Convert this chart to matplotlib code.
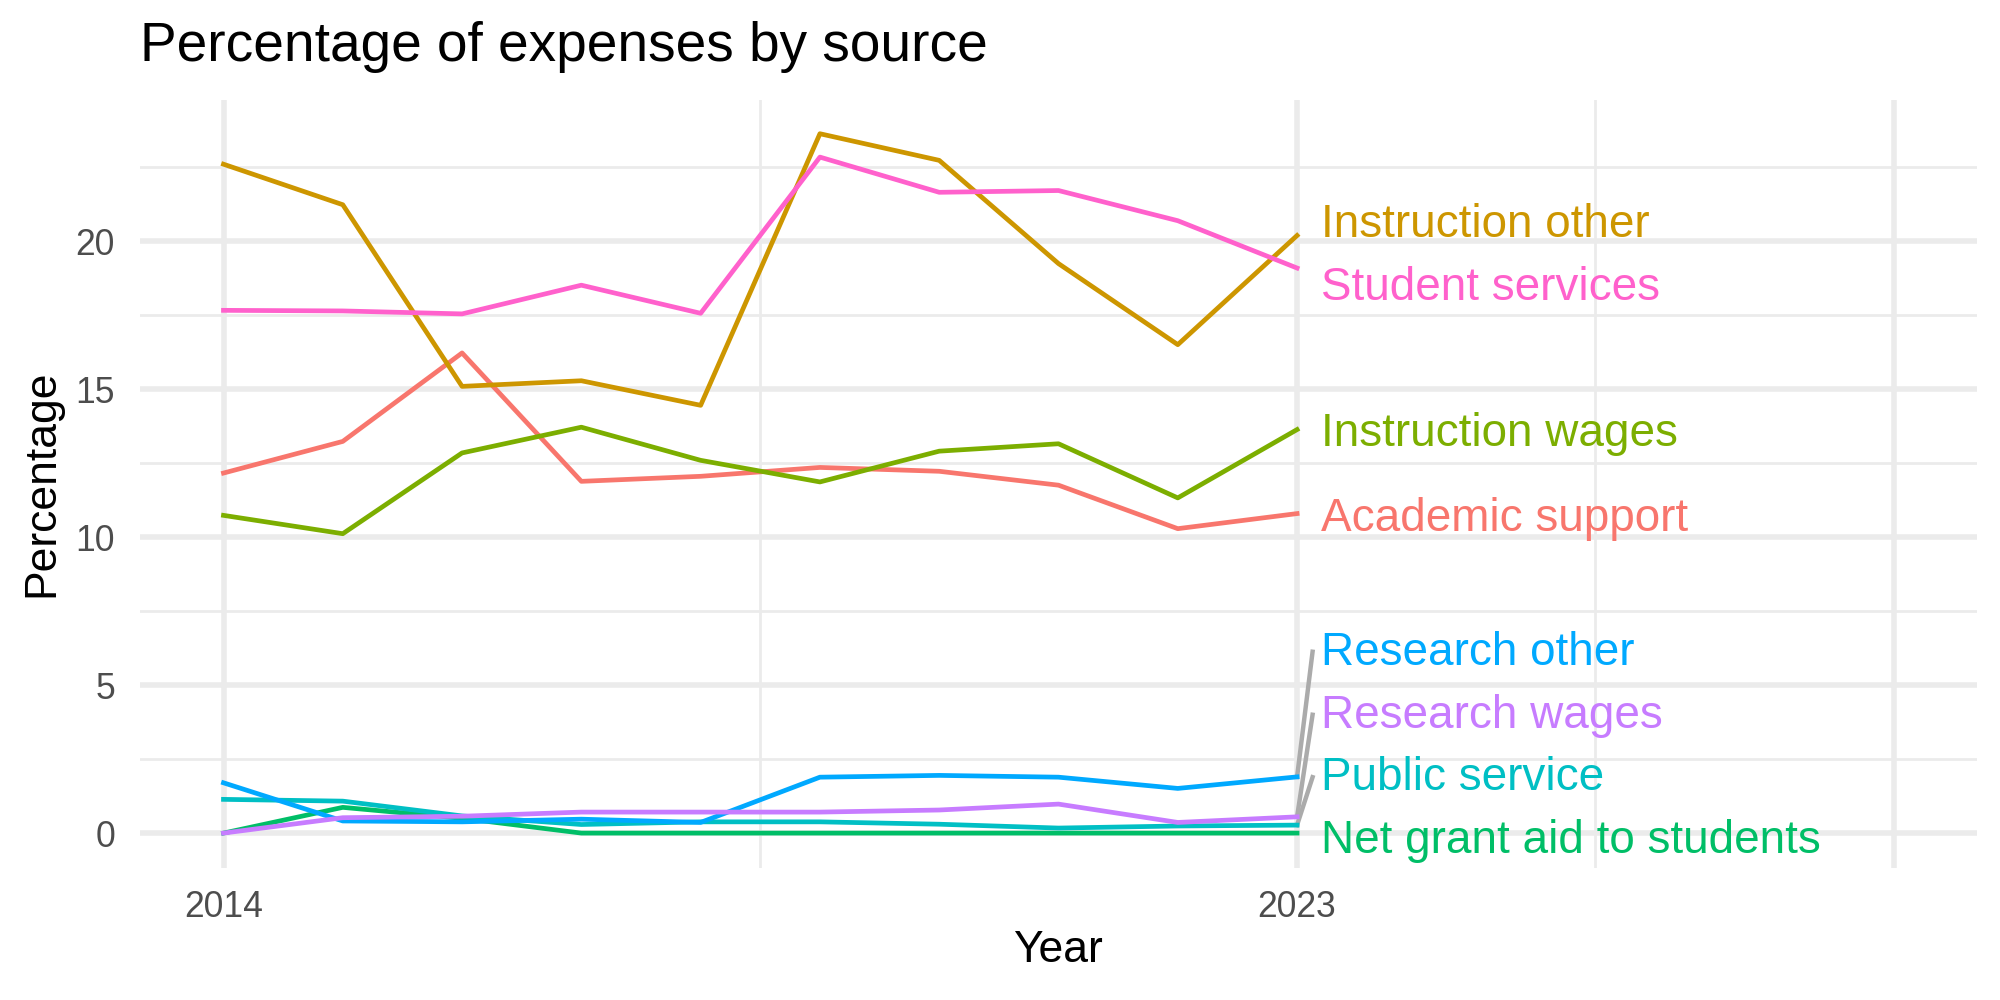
#!/usr/bin/env python3
'''percentage of expenses by source, line chart with direct labels'''

import numpy as np
import matplotlib
matplotlib.use('Agg')

import matplotlib.pyplot as plt

years = np.arange(2014, 2024)

# one list per source
academic_support = [12.17, 13.24, 16.23, 11.89, 12.06, 12.36, 12.23, 11.76, 10.29, 10.80]
instruction_other = [22.61, 21.24, 15.10, 15.29, 14.46, 23.64, 22.74, 19.25, 16.51, 20.20]
instruction_wages = [10.74, 10.12, 12.85, 13.72, 12.60, 11.87, 12.91, 13.16, 11.33, 13.64]
net_grant_aid = [0.00, 0.87, 0.50, 0.00, 0.00, 0.00, 0.00, 0.00, 0.00, 0.00]
public_service = [1.14, 1.08, 0.58, 0.29, 0.38, 0.38, 0.30, 0.17, 0.24, 0.27]
research_other = [1.70, 0.41, 0.38, 0.47, 0.36, 1.89, 1.95, 1.89, 1.51, 1.90]
research_wages = [0.00, 0.52, 0.57, 0.71, 0.71, 0.71, 0.78, 0.98, 0.36, 0.55]
student_services = [17.67, 17.65, 17.55, 18.52, 17.57, 22.85, 21.66, 21.72, 20.70, 19.10]

sources = ["Academic support", "Instruction other", "Instruction wages",
           "Net grant aid to students", "Public service", "Research other",
           "Research wages", "Student services"]
series = [academic_support, instruction_other, instruction_wages, net_grant_aid,
          public_service, research_other, research_wages, student_services]
# ggplot hue palette, 8 levels
colors = ["#F8766D", "#CD9600", "#7CAE00", "#00BE67",
          "#00BFC4", "#00A9FF", "#C77CFF", "#FF61CC"]
# where the repelled labels ended up (y), and whether a leader line is drawn
label_y = [10.80, 20.71, 13.67, -0.10, 2.02, 6.26, 4.13, 18.59]
has_segment = [False, False, False, False, True, True, True, False]


def main():
    plt.rcParams['font.family'] = ['Liberation Sans', 'DejaVu Sans']
    fig = plt.figure(figsize=(10, 5), dpi=200)
    ax = fig.add_axes([0.07, 0.132, 0.9185, 0.768])

    for name, vals, col in zip(sources, series, colors):
        ax.plot(years, vals, color=col, lw=1.7, zorder=3)

    label_x = years[-1] + 0.2
    for name, vals, col, ly, seg in zip(sources, series, colors, label_y, has_segment):
        if seg:
            ax.plot([years[-1], years[-1] + 0.13], [vals[-1], ly - 0.13],
                    color="#ABABAB", lw=1.6, zorder=2)
        ax.text(label_x, ly, name, color=col, fontsize=16.5,
                va='center_baseline', ha='left', zorder=4)

    ax.set_xlim(2013.3, 2028.7)
    ax.set_ylim(-1.18, 24.78)
    ax.set_xticks([2014, 2023, 2028])
    ax.set_xticklabels(["2014", "2023", ""])
    ax.set_xticks([2018.5, 2025.5], minor=True)
    ax.set_yticks([0, 5, 10, 15, 20])
    ax.set_yticks([2.5, 7.5, 12.5, 17.5, 22.5], minor=True)

    ax.grid(which='major', color="#EBEBEB", lw=2.0)
    ax.grid(which='minor', color="#EBEBEB", lw=1.0)
    ax.set_axisbelow(True)
    for s in ax.spines.values():
        s.set_visible(False)
    ax.tick_params(which='both', length=0, labelsize=12.8, labelcolor="#4D4D4D")
    ax.tick_params(axis='y', pad=9)
    ax.tick_params(axis='x', pad=8)

    fig.text(0.07, 0.939, "Percentage of expenses by source", fontsize=19.8,
             ha='left', va='baseline')
    fig.text(0.529, 0.05, "Year", fontsize=16, ha='center', va='center')
    fig.text(0.021, 0.517, "Percentage", fontsize=16, rotation=90,
             ha='center', va='center')

    plt.savefig("out.png", dpi=200)


if __name__ == "__main__":
    main()
